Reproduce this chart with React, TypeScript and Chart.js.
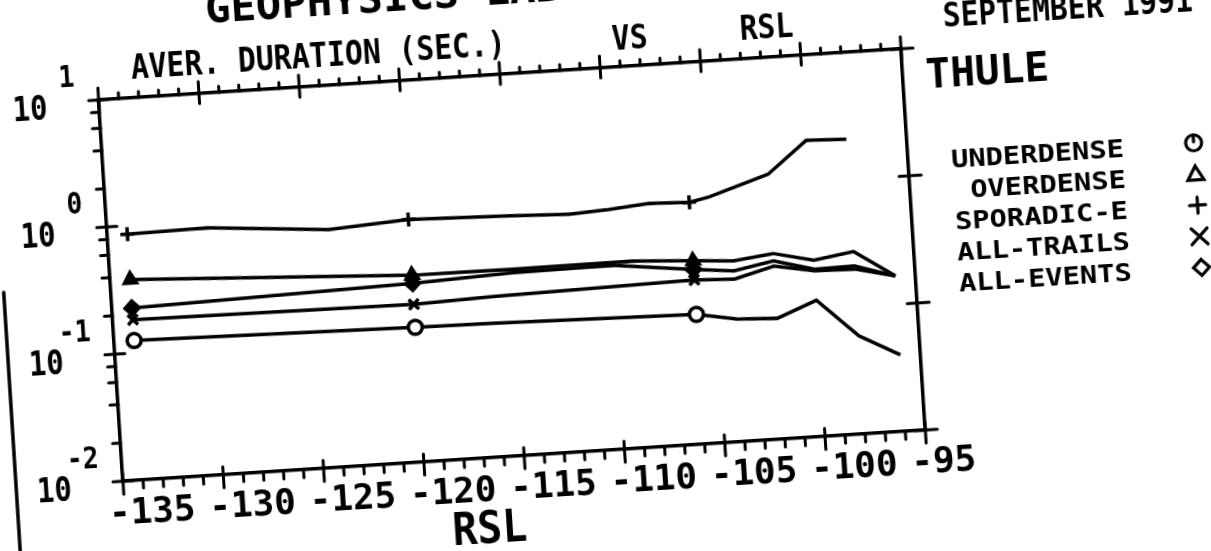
import React, { useEffect, useRef } from 'react';
import { Chart, registerables } from 'chart.js';

Chart.register(...registerables);

// ---- data (RSL in dB, average duration in seconds) ----
const markerRSL = [-134, -120, -106];

const rslUnderdense = [-134, -120, -116, -106, -104, -102, -100, -98, -96];
const underdense = [0.125, 0.115, 0.113, 0.105, 0.092, 0.089, 0.118, 0.059, 0.04];

const rslOverdense = [-134, -120, -115, -109, -106, -104, -102, -100, -98, -96];
const overdense = [0.377, 0.296, 0.293, 0.296, 0.277, 0.264, 0.288, 0.243, 0.272, 0.167];

const rslSporadic = [-134, -130, -124, -120, -115, -112, -110, -108, -106, -105, -102, -100, -98];
const sporadicE = [0.86, 0.88, 0.74, 0.81, 0.77, 0.74, 0.77, 0.82, 0.8, 0.86, 1.21, 2.14, 2.08];

const rslAllTrails = [-134, -120, -116, -106, -104, -102, -100, -98, -96];
const allTrails = [0.182, 0.174, 0.183, 0.196, 0.19, 0.229, 0.201, 0.198, 0.167];

const rslAllEvents = [-134, -120, -115, -110, -106, -104, -102, -100, -98, -96];
const allEvents = [0.225, 0.254, 0.275, 0.28, 0.237, 0.22, 0.252, 0.207, 0.21, 0.167];

const legendLabels = ['UNDERDENSE', 'OVERDENSE', 'SPORADIC-E', 'ALL-TRAILS', 'ALL-EVENTS'];
const legendStyles = ['circle', 'triangle', 'cross', 'crossRot', 'rectRot'];

const rslMin = -135;
const rslMax = -95;
const yDecades = [0.01, 0.1, 1, 10];
const yExponents = ['-2', '-1', '0', '1'];
const yMinor = [2, 4, 6, 8];

const titleText = 'GEOPHYSICS LAB';
const yTitle = 'AVER. DURATION (SEC.)';
const vsText = 'VS';
const xTitleTop = 'RSL';
const dateText = 'SEPTEMBER 1991';
const siteText = 'THULE';
const xTitle = 'RSL';

const FONT = '"DejaVu Sans Mono", "Liberation Mono", monospace';

const pts = (xs: number[], ys: number[]) => xs.map((x, i) => ({ x, y: ys[i] }));

function txt(ctx: CanvasRenderingContext2D, s: string, x: number, y: number, size: number, sx: number, align: CanvasTextAlign) {
  ctx.save();
  ctx.translate(x, y);
  ctx.scale(sx, 1);
  ctx.font = `bold ${size}px ${FONT}`;
  ctx.textAlign = align;
  ctx.textBaseline = 'alphabetic';
  ctx.fillStyle = '#000';
  ctx.fillText(s, 0, 0);
  ctx.restore();
}

function seg(ctx: CanvasRenderingContext2D, x1: number, y1: number, x2: number, y2: number) {
  ctx.beginPath();
  ctx.moveTo(x1, y1);
  ctx.lineTo(x2, y2);
  ctx.stroke();
}

function legendMarker(ctx: CanvasRenderingContext2D, style: string, x: number, y: number) {
  const r = 8;
  ctx.beginPath();
  if (style === 'circle') {
    ctx.arc(x, y, r, 0, Math.PI * 2);
    ctx.stroke();
    seg(ctx, x, y - r, x, y - 1);
  } else if (style === 'triangle') {
    ctx.moveTo(x, y - r);
    ctx.lineTo(x + r, y + 6);
    ctx.lineTo(x - r, y + 6);
    ctx.closePath();
    ctx.stroke();
  } else if (style === 'cross') {
    seg(ctx, x - r, y, x + r, y);
    seg(ctx, x, y - r, x, y + r);
  } else if (style === 'crossRot') {
    seg(ctx, x - r, y - r, x + r, y + r);
    seg(ctx, x - r, y + r, x + r, y - r);
  } else {
    ctx.moveTo(x, y - r);
    ctx.lineTo(x + r, y);
    ctx.lineTo(x, y + r);
    ctx.lineTo(x - r, y);
    ctx.closePath();
    ctx.stroke();
  }
}

const decor = {
  id: 'decor',
  afterDraw(chart: any) {
    const ctx: CanvasRenderingContext2D = chart.ctx;
    const { left, right, top, bottom } = chart.chartArea;
    const xs = chart.scales.x;
    const ys = chart.scales.y;
    ctx.save();
    ctx.strokeStyle = '#000';
    ctx.lineWidth = 3;
    ctx.lineCap = 'round';
    // x-axis tick marks (bottom and top)
    for (let v = rslMin; v <= rslMax; v++) {
      const px = xs.getPixelForValue(v);
      const major = v % 5 === 0;
      seg(ctx, px, bottom - (major ? 8 : 0), px, bottom + (major ? 13 : 8));
      seg(ctx, px, top - (major ? 12 : 6), px, top + (major ? 10 : 0));
    }
    // y-axis tick marks
    yDecades.forEach((d, i) => {
      const py = ys.getPixelForValue(d);
      seg(ctx, left - 10, py, left + 10, py);
      seg(ctx, right - 10, py, right + 12, py);
      if (i < yDecades.length - 1) {
        yMinor.forEach((m) => {
          const p = ys.getPixelForValue(d * m);
          seg(ctx, left - 8, p, left, p);
        });
      }
      // y tick labels 10^n
      txt(ctx, '10', left - 69, py + 16, 34, 0.85, 'center');
      txt(ctx, yExponents[i], left - 23, py - 15, 31, 0.85, 'right');
    });
    // titles and notes
    txt(ctx, titleText, 272, 84, 41, 1.03, 'left');
    txt(ctx, yTitle, 382, 135, 33, 0.9, 'center');
    txt(ctx, vsText, 694, 137, 33, 0.9, 'center');
    txt(ctx, xTitleTop, 831, 135, 33, 0.9, 'center');
    txt(ctx, dateText, 1133, 135, 33, 0.9, 'center');
    txt(ctx, siteText, 987, 195, 41, 1.0, 'left');
    txt(ctx, xTitle, 523, 621, 44, 0.94, 'center');
    // legend
    ctx.lineWidth = 3.2;
    chart.data.datasets.forEach((ds: any, i: number) => {
      const y = 266.5 + i * 31.2;
      txt(ctx, ds.label, 1180, y + 9, 25, 1.15, 'right');
      legendMarker(ctx, legendStyles[i], 1250, y);
    });
    // page edge line
    ctx.lineWidth = 3.5;
    seg(ctx, 53, 340, 53, 720);
    ctx.restore();
  },
};

const axisBorder = { display: true, color: '#000', width: 3.5 };
const noGrid = { display: false, drawTicks: false };

export default function App() {
  const ref = useRef<HTMLCanvasElement | null>(null);

  useEffect(() => {
    if (!ref.current) return;
    const series = [underdense, overdense, sporadicE, allTrails, allEvents];
    const xsList = [rslUnderdense, rslOverdense, rslSporadic, rslAllTrails, rslAllEvents];
    const fills = ['#fff', '#000', '#000', '#000', '#000'];
    const datasets = series.map((ys, i) => ({
      label: legendLabels[i],
      data: pts(xsList[i], ys),
      borderColor: '#000',
      borderWidth: 3.5,
      tension: 0,
      fill: false,
      pointStyle: legendStyles[i],
      pointBorderColor: '#000',
      pointBackgroundColor: fills[i],
      pointBorderWidth: 3.5,
      pointRadius: (c: any) => (c.raw && markerRSL.includes(c.raw.x) ? 7 : 0),
      pointHoverRadius: 0,
    }));
    const chart = new Chart(ref.current, {
      type: 'line',
      data: { datasets } as any,
      options: {
        animation: false,
        responsive: false,
        maintainAspectRatio: false,
        events: [],
        layout: { padding: 0 },
        plugins: { legend: { display: false }, tooltip: { enabled: false } },
        scales: {
          x: {
            type: 'linear',
            position: 'bottom',
            min: rslMin,
            max: rslMax,
            grid: noGrid,
            border: axisBorder,
            ticks: {
              stepSize: 5,
              autoSkip: false,
              maxRotation: 0,
              minRotation: 0,
              align: 'start',
              labelOffset: -16,
              padding: 12,
              color: '#000',
              font: { family: FONT, size: 36, weight: 'bold' },
              callback: (v: any) => String(v),
            },
            afterFit: (s: any) => { s.height = 184; },
          },
          xTop: {
            type: 'linear',
            position: 'top',
            min: rslMin,
            max: rslMax,
            grid: noGrid,
            border: axisBorder,
            ticks: { display: false },
            afterFit: (s: any) => { s.height = 154; },
          },
          y: {
            type: 'logarithmic',
            position: 'left',
            min: 0.01,
            max: 10,
            grid: noGrid,
            border: axisBorder,
            ticks: { display: false },
            afterFit: (s: any) => { s.width = 160; },
          },
          yRight: {
            type: 'logarithmic',
            position: 'right',
            min: 0.01,
            max: 10,
            grid: noGrid,
            border: axisBorder,
            ticks: { display: false },
            afterFit: (s: any) => { s.width = 356; },
          },
        },
      } as any,
      plugins: [decor],
    });
    return () => chart.destroy();
  }, []);

  return (
    <div style={{ position: 'fixed', left: 0, top: 0, width: 1211, height: 551, overflow: 'hidden', background: '#fff' }}>
      <canvas
        ref={ref}
        width={1320}
        height={720}
        style={{
          position: 'absolute',
          left: -50,
          top: -80,
          width: 1320,
          height: 720,
          transform: 'rotate(-3.65deg)',
          transformOrigin: '562px 345px',
        }}
      />
    </div>
  );
}
